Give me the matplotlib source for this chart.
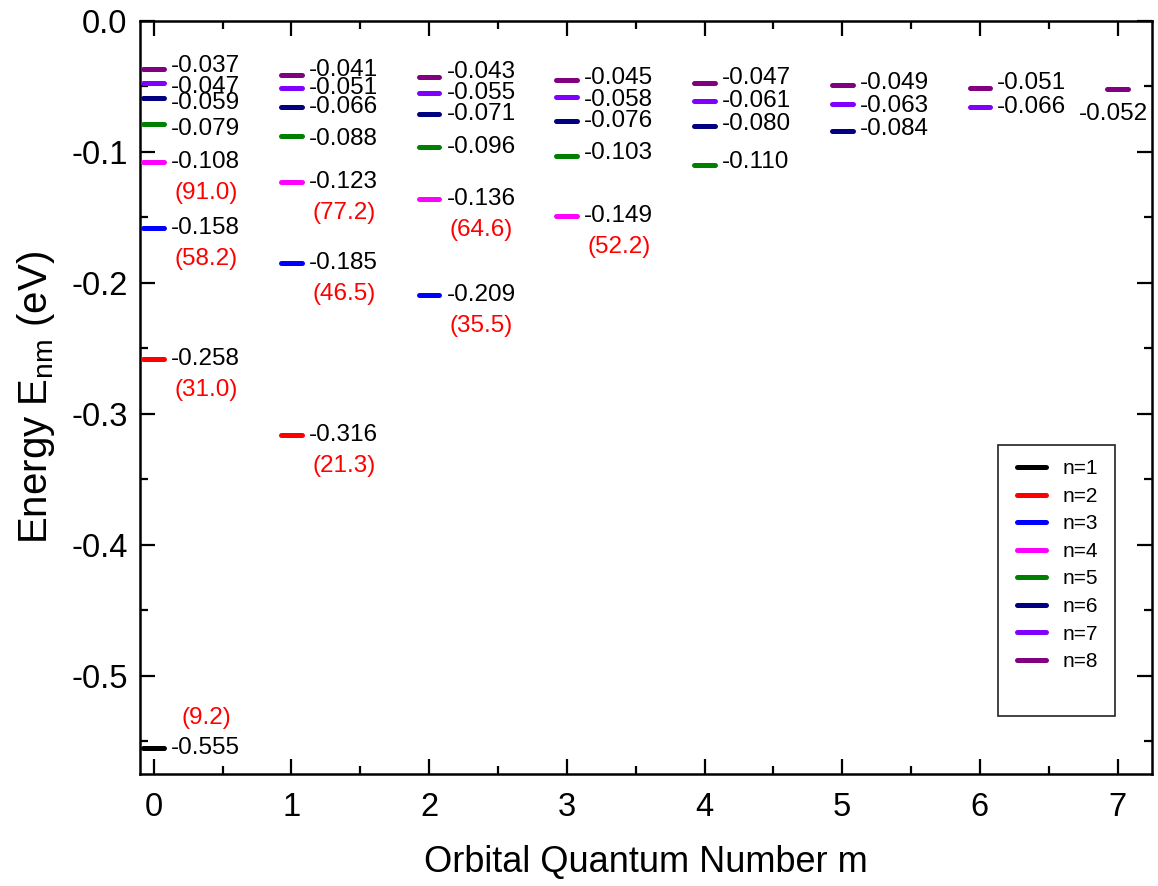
import matplotlib
matplotlib.use('Agg')
import matplotlib.pyplot as plt
from matplotlib.ticker import MultipleLocator
from matplotlib.patches import Rectangle

# Energy levels E_nm (eV), one list per orbital number m, for n = m+1 ... 8
energy_m0 = [-0.555, -0.258, -0.158, -0.108, -0.079, -0.059, -0.047, -0.037]
energy_m1 = [-0.316, -0.185, -0.123, -0.088, -0.066, -0.051, -0.041]
energy_m2 = [-0.209, -0.136, -0.096, -0.071, -0.055, -0.043]
energy_m3 = [-0.149, -0.103, -0.076, -0.058, -0.045]
energy_m4 = [-0.110, -0.080, -0.061, -0.047]
energy_m5 = [-0.084, -0.063, -0.049]
energy_m6 = [-0.066, -0.051]
energy_m7 = [-0.052]
energies = [energy_m0, energy_m1, energy_m2, energy_m3,
            energy_m4, energy_m5, energy_m6, energy_m7]

# red values in brackets, attached to level (m, n)
red_m = [0, 0, 0, 0, 1, 1, 1, 2, 2, 3]
red_n = [1, 2, 3, 4, 2, 3, 4, 3, 4, 4]
red_text = ['(9.2)', '(31.0)', '(58.2)', '(91.0)', '(21.3)', '(46.5)',
            '(77.2)', '(35.5)', '(64.6)', '(52.2)']

n_labels = ['n=1', 'n=2', 'n=3', 'n=4', 'n=5', 'n=6', 'n=7', 'n=8']
colors = ['#000000', '#FF0000', '#0000FF', '#FF00FF',
          '#008000', '#000080', '#8000FF', '#800080']

# small vertical nudges (pixels) for crowded value labels
nudge = {(0, 8): 3, (0, 7): -4, (0, 6): -5, (0, 5): -5, (1, 8): 5, (1, 5): -3,
         (2, 8): 5, (3, 8): 2, (3, 7): -3, (3, 5): 3, (4, 8): 5, (4, 6): 2,
         (4, 5): 3, (5, 8): 2, (5, 7): -2, (5, 6): 2, (6, 8): 5}

plt.rcParams['font.family'] = ['Liberation Sans', 'DejaVu Sans']
plt.rcParams['mathtext.fontset'] = 'custom'
plt.rcParams['mathtext.rm'] = 'Liberation Sans'
plt.rcParams['axes.unicode_minus'] = False

fig = plt.figure(figsize=(11.58, 8.86), dpi=100)
ax = fig.add_axes([0.1209, 0.1264, 0.8739, 0.8499])

half = 0.075
for m, levels in enumerate(energies):
    for i, e in enumerate(levels):
        n = m + 1 + i
        ax.plot([m - half, m + half], [e, e], color=colors[n - 1], lw=3.6,
                solid_capstyle='round', zorder=3)
        dy = nudge.get((m, n), 0)
        if m == 7:
            ax.annotate(f'{e:.3f}', xy=(m, e), xytext=(-4, -25),
                        textcoords='offset pixels', ha='center', va='center',
                        fontsize=17.5)
        else:
            ax.annotate(f'{e:.3f}', xy=(m + half, e), xytext=(7, dy),
                        textcoords='offset pixels', ha='left', va='center',
                        fontsize=17.5)

for m, n, t in zip(red_m, red_n, red_text):
    e = energies[m][n - m - 1]
    dy = 30 if n == 1 else -31
    ax.annotate(t, xy=(m + half, e), xytext=(42, dy), textcoords='offset pixels',
                ha='center', va='center', fontsize=17.5, color='#FF0000')

# legend
for c, lab in zip(colors, n_labels):
    ax.plot([], [], color=c, lw=3.6, solid_capstyle='round', label=lab)
leg = ax.legend(loc='upper left', bbox_to_anchor=(0.867, 0.418), frameon=False,
                fontsize=15, borderpad=0, borderaxespad=0, handlelength=1.35,
                handletextpad=0.8, labelspacing=0.41)
ax.add_patch(Rectangle((0.848, 0.077), 0.115, 0.360, transform=ax.transAxes,
                       fill=False, lw=1.2, edgecolor='#222222', zorder=4))

ax.set_xlim(-0.1, 7.25)
ax.set_ylim(-0.575, 0.0)
ax.xaxis.set_major_locator(MultipleLocator(1))
ax.xaxis.set_minor_locator(MultipleLocator(0.5))
ax.yaxis.set_major_locator(MultipleLocator(0.1))
ax.yaxis.set_minor_locator(MultipleLocator(0.05))
ax.yaxis.set_major_formatter(plt.FuncFormatter(lambda v, p: f'{v:.1f}'))

ax.tick_params(which='both', direction='in', top=True, right=True, width=1.6,
               labelsize=23.5)
ax.tick_params(which='major', length=11)
ax.tick_params(which='minor', length=6)
ax.tick_params(axis='x', pad=13)
ax.tick_params(axis='y', pad=9)
for s in ax.spines.values():
    s.set_linewidth(1.8)

ax.set_xlabel('Orbital Quantum Number m', fontsize=26, labelpad=16)
ax.set_ylabel(r'Energy E$_{\mathregular{nm}}$ (eV)', fontsize=29, labelpad=10)

fig.savefig('out.png', dpi=100)
